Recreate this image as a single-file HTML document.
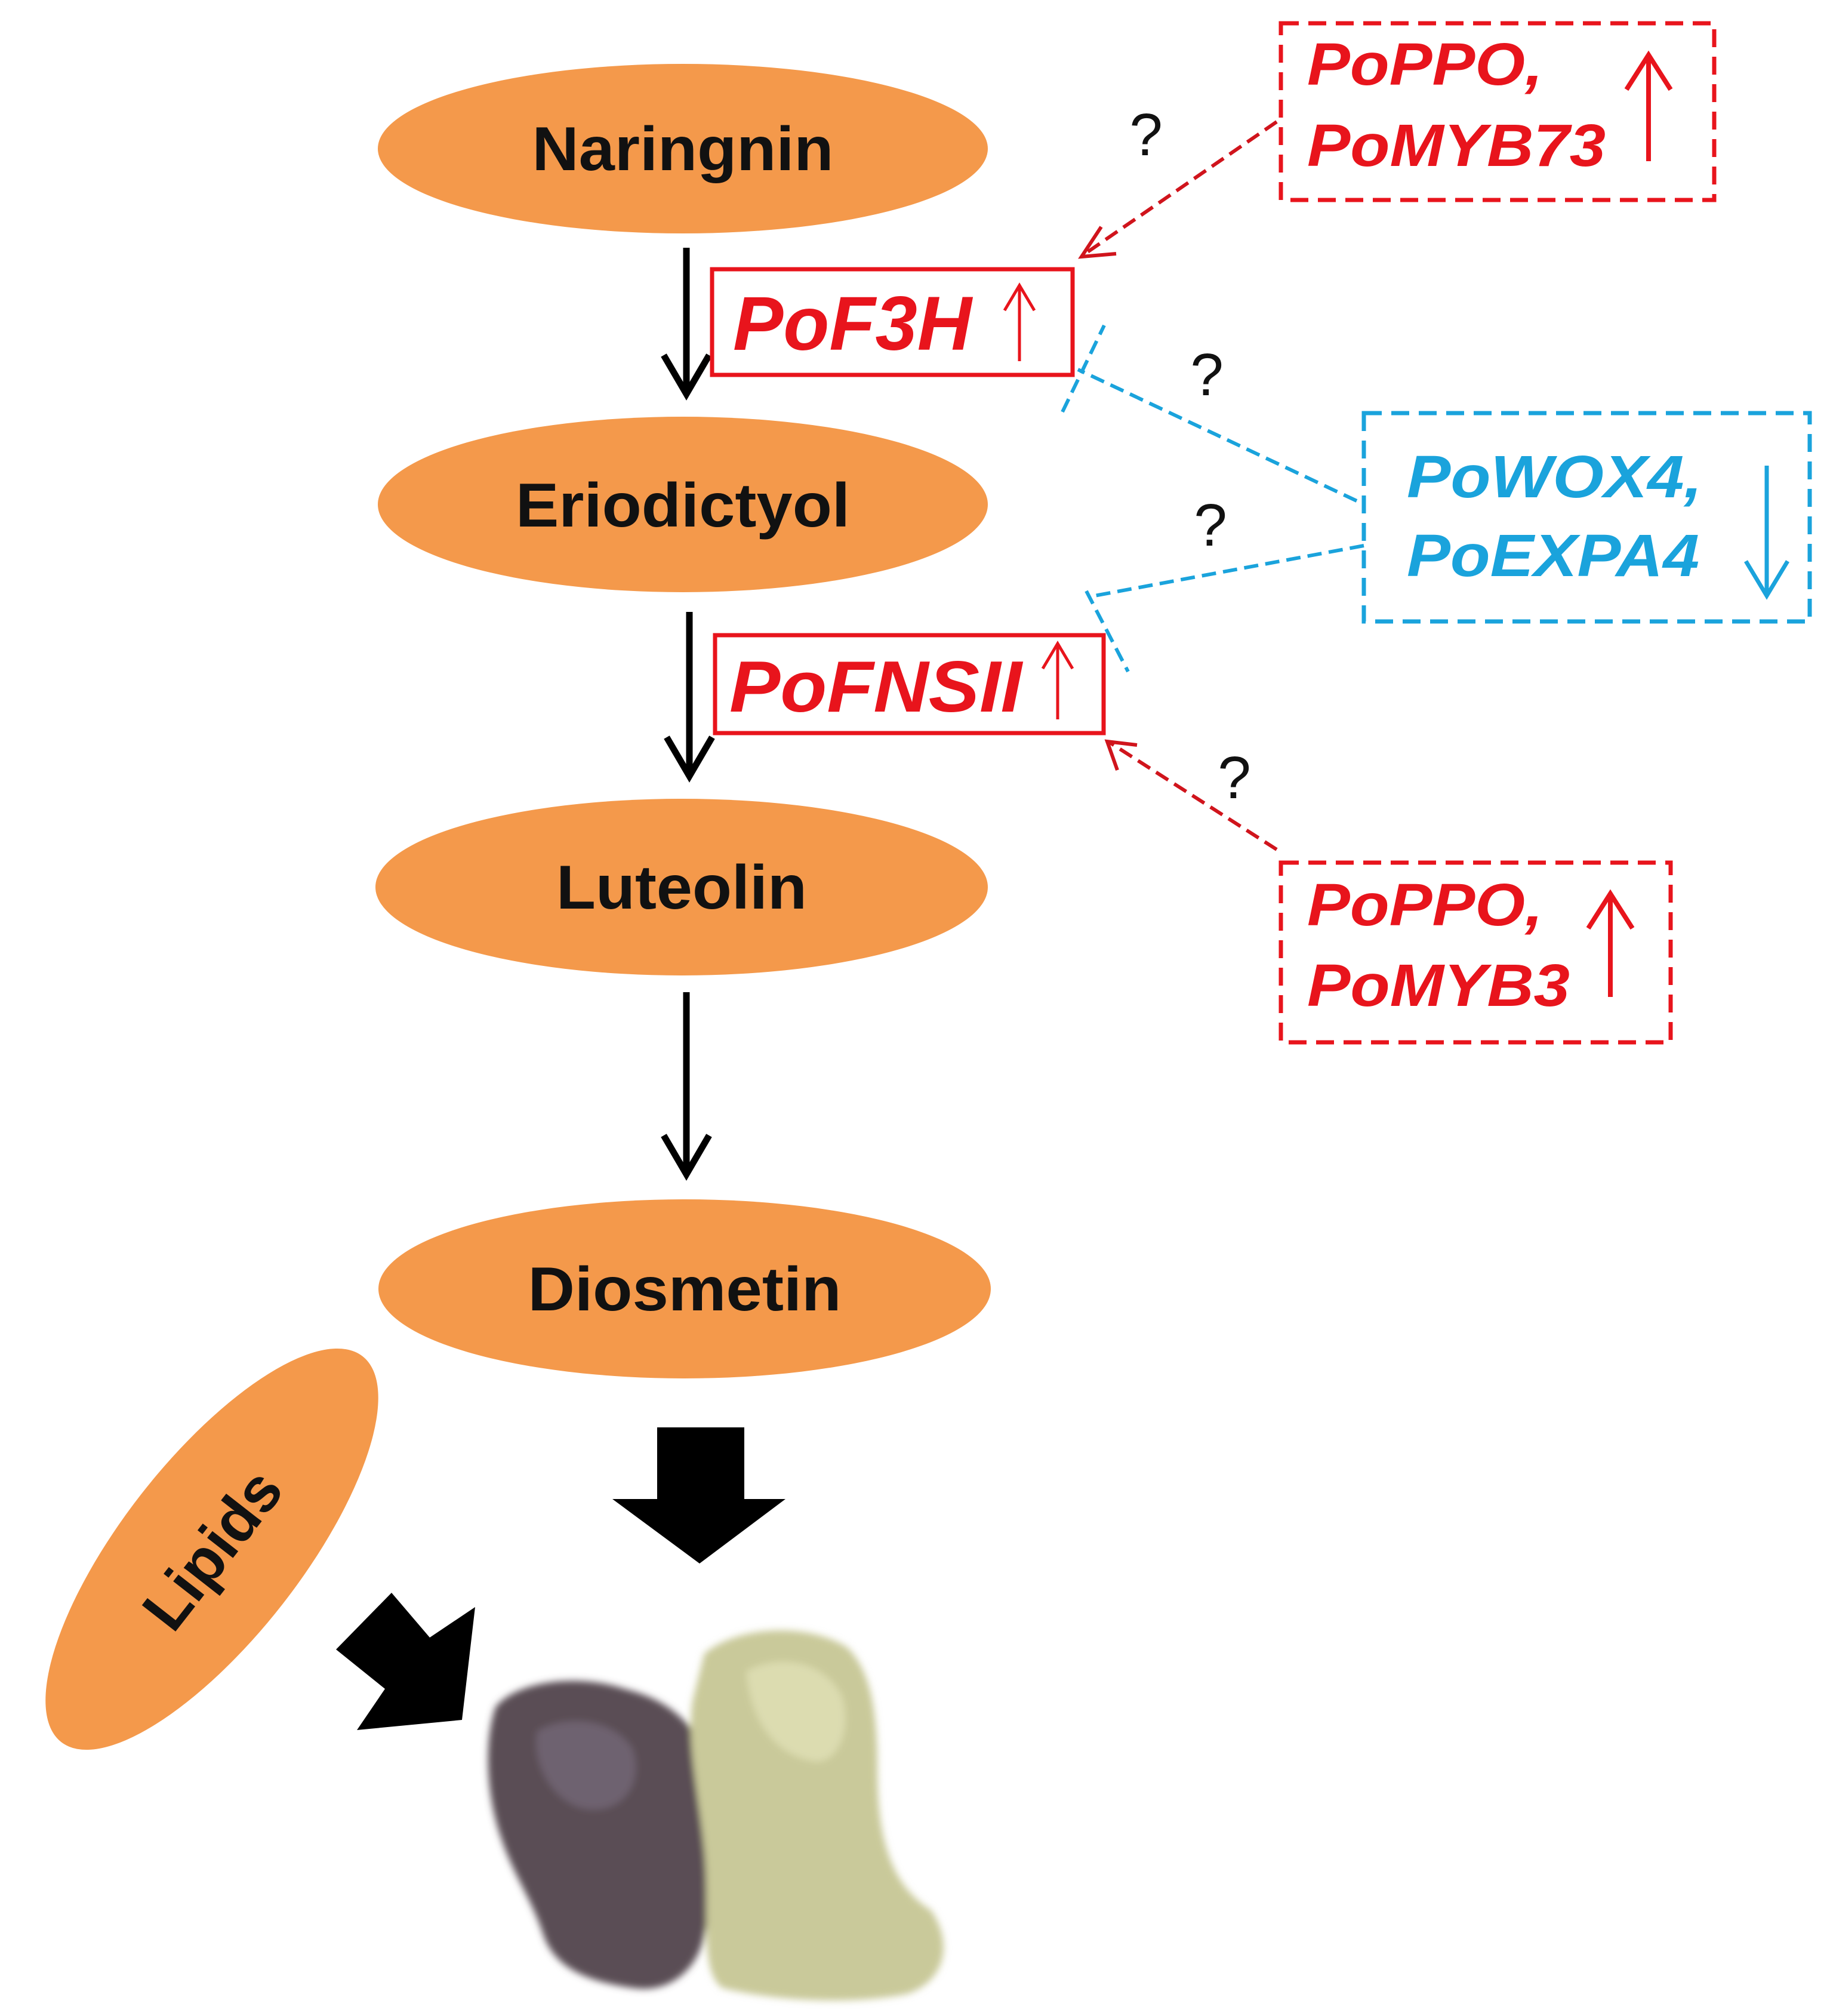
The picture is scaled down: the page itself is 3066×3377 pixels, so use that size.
<!DOCTYPE html>
<html><head><meta charset="utf-8"><style>html,body{margin:0;padding:0;background:#fff}svg{display:block}</style></head>
<body>
<svg width="3066" height="3377" viewBox="0 0 3066 3377" xmlns="http://www.w3.org/2000/svg" font-family="Liberation Sans, Arial, sans-serif">
<defs>
<filter id="blur"><feGaussianBlur stdDeviation="6"/></filter>
</defs>
<g fill="#f4994b">
<ellipse cx="1144" cy="249" rx="511" ry="142"/>
<ellipse cx="1144" cy="845" rx="511" ry="147"/>
<ellipse cx="1142" cy="1486" rx="513" ry="148"/>
<ellipse cx="1147" cy="2159" rx="513" ry="150"/>
<ellipse cx="355" cy="2595" rx="410" ry="150" transform="rotate(-52 355 2595)"/>
</g>
<g font-weight="bold" font-size="104" text-anchor="middle" fill="#111">
<text x="1144" y="285" textLength="505" lengthAdjust="spacingAndGlyphs">Naringnin</text>
<text x="1144" y="882" textLength="560" lengthAdjust="spacingAndGlyphs">Eriodictyol</text>
<text x="1142" y="1522" textLength="420" lengthAdjust="spacingAndGlyphs">Luteolin</text>
<text x="1147" y="2195" textLength="525" lengthAdjust="spacingAndGlyphs">Diosmetin</text>
<text x="355" y="2632" transform="rotate(-52 355 2595)">Lipids</text>
</g>
<!-- black arrows -->
<g stroke="#000" stroke-width="11" fill="none">
<line x1="1150" y1="415" x2="1150" y2="655"/>
<path d="M1112,595 L1150,660 L1188,595"/>
<line x1="1155" y1="1025" x2="1155" y2="1295"/>
<path d="M1117,1235 L1155,1300 L1193,1235"/>
<line x1="1150" y1="1662" x2="1150" y2="1962"/>
<path d="M1112,1902 L1150,1967 L1188,1902"/>
</g>
<!-- enzyme boxes -->
<rect x="1193" y="451" width="604" height="177" fill="none" stroke="#e8141c" stroke-width="7"/>
<text x="1228" y="586" font-size="128" font-weight="bold" font-style="italic" fill="#e8141c" textLength="400" lengthAdjust="spacingAndGlyphs">PoF3H</text>
<g stroke="#e8141c" stroke-width="5" fill="none"><line x1="1708" y1="605" x2="1708" y2="480"/><path d="M1683,520 L1708,478 L1733,520"/></g>
<rect x="1198" y="1064" width="651" height="164" fill="none" stroke="#e8141c" stroke-width="7"/>
<text x="1222" y="1192" font-size="122" font-weight="bold" font-style="italic" fill="#e8141c" textLength="490" lengthAdjust="spacingAndGlyphs">PoFNSII</text>
<g stroke="#e8141c" stroke-width="5" fill="none"><line x1="1772" y1="1205" x2="1772" y2="1080"/><path d="M1747,1120 L1772,1078 L1797,1120"/></g>
<!-- dashed boxes -->
<rect x="2146" y="39" width="726" height="296" fill="none" stroke="#e8141c" stroke-width="7" stroke-dasharray="30 16"/>
<text x="2190" y="142" font-size="100" font-weight="bold" font-style="italic" fill="#e8141c" textLength="395" lengthAdjust="spacingAndGlyphs">PoPPO,</text>
<text x="2190" y="278" font-size="100" font-weight="bold" font-style="italic" fill="#e8141c" textLength="500" lengthAdjust="spacingAndGlyphs">PoMYB73</text>
<g stroke="#e8141c" stroke-width="8" fill="none"><line x1="2762" y1="270" x2="2762" y2="95"/><path d="M2725,150 L2762,92 L2799,150"/></g>
<rect x="2285" y="692" width="747" height="349" fill="none" stroke="#1aa3dc" stroke-width="7" stroke-dasharray="30 16"/>
<text x="2357" y="833" font-size="100" font-weight="bold" font-style="italic" fill="#1aa3dc" textLength="495" lengthAdjust="spacingAndGlyphs">PoWOX4,</text>
<text x="2357" y="965" font-size="100" font-weight="bold" font-style="italic" fill="#1aa3dc" textLength="490" lengthAdjust="spacingAndGlyphs">PoEXPA4</text>
<g stroke="#1aa3dc" stroke-width="7" fill="none"><line x1="2960" y1="780" x2="2960" y2="995"/><path d="M2925,940 L2960,998 L2995,940"/></g>
<rect x="2146" y="1445" width="653" height="301" fill="none" stroke="#e8141c" stroke-width="7" stroke-dasharray="30 16"/>
<text x="2190" y="1550" font-size="100" font-weight="bold" font-style="italic" fill="#e8141c" textLength="395" lengthAdjust="spacingAndGlyphs">PoPPO,</text>
<text x="2190" y="1685" font-size="100" font-weight="bold" font-style="italic" fill="#e8141c" textLength="440" lengthAdjust="spacingAndGlyphs">PoMYB3</text>
<g stroke="#e8141c" stroke-width="8" fill="none"><line x1="2698" y1="1670" x2="2698" y2="1500"/><path d="M2661,1555 L2698,1497 L2735,1555"/></g>
<!-- dashed connectors -->
<g fill="none" stroke-width="6" stroke-dasharray="24 12">
<line x1="2139" y1="204" x2="1815" y2="427" stroke="#d0141c"/>
<line x1="2273" y1="839" x2="1806" y2="619" stroke="#1aa3dc"/>
<line x1="1780" y1="690" x2="1850" y2="545" stroke="#1aa3dc"/>
<line x1="2285" y1="914" x2="1823" y2="1000" stroke="#1aa3dc"/>
<line x1="1820" y1="990" x2="1890" y2="1125" stroke="#1aa3dc"/>
<line x1="2139" y1="1423" x2="1858" y2="1243" stroke="#d0141c"/>
</g>
<g fill="none" stroke="#d0141c" stroke-width="6">
<path d="M1845,380 L1812,430 L1870,425"/>
<path d="M1872,1290 L1855,1242 L1905,1248"/>
</g>
<g font-size="100" fill="#111" text-anchor="middle">
<text x="1920" y="260">?</text>
<text x="2022" y="662">?</text>
<text x="2028" y="914">?</text>
<text x="2068" y="1337">?</text>
</g>
<!-- big arrows -->
<polygon points="1101,2391 1247,2391 1247,2511 1316,2511 1172,2619 1026,2511 1101,2511" fill="#000"/>
<polygon points="563,2763 656,2668 720,2743 796,2692 774,2881 598,2898 645,2829" fill="#000"/>
<!-- callus -->
<g filter="url(#blur)">
<path d="M830,2860 C860,2820 960,2800 1050,2830 C1130,2850 1180,2900 1190,2980 C1210,3060 1200,3160 1180,3240 C1170,3300 1120,3340 1060,3330 C990,3320 930,3300 910,3240 C890,3180 860,3140 840,3080 C815,3010 810,2920 830,2860 Z" fill="#5a4d55"/>
<path d="M1180,2770 C1240,2720 1360,2720 1420,2760 C1460,2800 1470,2870 1470,2960 C1470,3050 1480,3150 1560,3200 C1600,3260 1580,3320 1520,3340 C1420,3360 1290,3350 1210,3330 C1170,3300 1190,3200 1180,3100 C1170,3000 1150,2920 1160,2850 Z" fill="#c9c99a"/>
<path d="M1250,2800 C1300,2770 1380,2780 1410,2840 C1430,2900 1400,2960 1360,2950 C1310,2940 1260,2900 1250,2800 Z" fill="#dcdcb0"/>
<path d="M900,2900 C950,2870 1030,2880 1060,2930 C1080,2990 1040,3040 980,3030 C930,3020 890,2960 900,2900 Z" fill="#6e6270"/>
</g>
</svg>
</body></html>
